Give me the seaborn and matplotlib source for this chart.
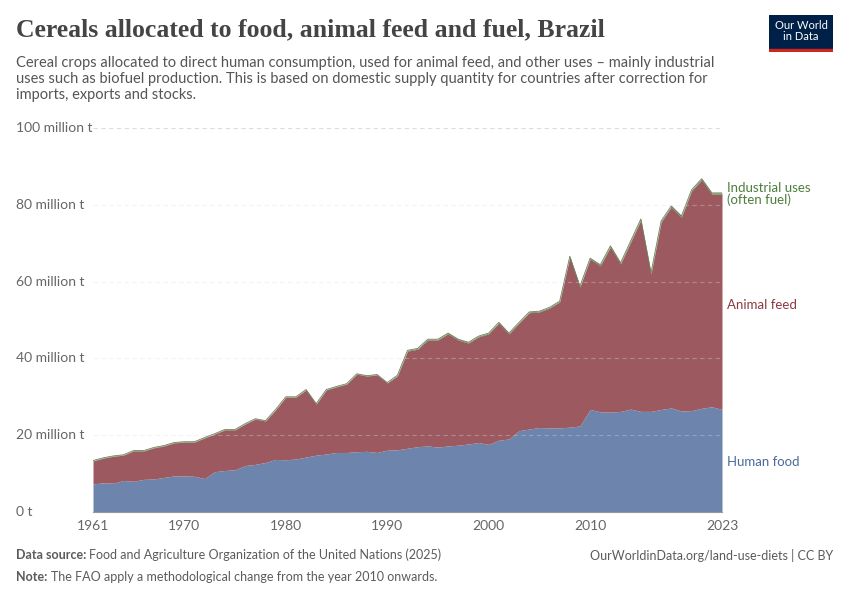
import matplotlib
matplotlib.use("Agg")
import matplotlib.pyplot as plt
import seaborn as sns
import numpy as np

years = list(range(1961, 2024))
human_food = [7.3,7.6,7.5,8.2,8.0,8.5,8.6,9.0,9.4,9.4,9.3,8.7,10.5,10.8,11.0,12.1,12.4,12.9,13.7,13.6,
              13.8,14.3,14.8,15.1,15.5,15.5,15.7,15.8,15.5,16.1,16.2,16.6,17.0,17.2,16.9,17.2,17.4,17.7,18.1,17.6,
              18.7,19.0,21.2,21.6,22.0,21.9,21.9,22.1,22.4,26.7,26.1,26.0,26.2,26.8,26.2,26.2,26.7,27.1,26.3,26.4,
              27.0,27.4,26.7]
animal_feed = [6.0,6.4,7.0,6.6,7.9,7.4,8.1,8.2,8.6,8.8,8.9,10.6,9.8,10.6,10.4,10.8,11.8,10.8,12.9,16.3,
               16.1,17.5,13.3,16.7,17.1,17.8,20.2,19.6,20.2,17.5,19.2,25.3,25.4,27.6,27.9,29.2,27.4,26.3,27.5,28.8,
               30.5,27.4,28.0,30.3,30.1,31.2,32.8,44.3,36.2,39.2,38.0,43.0,38.4,43.5,49.8,35.8,48.8,52.3,50.5,57.2,
               59.5,55.4,56.1]
industrial = [0.1]*30 + [0.2]*20 + [0.3]*13

sns.set_style("white")
plt.rcParams['font.family'] = ['Lato', 'DejaVu Sans']

fig = plt.figure(figsize=(8.5, 6), dpi=100)
ax = fig.add_axes([93/850, 88/600, (722-93)/850, 384/600])

yrs = np.array(years)
f = np.array(human_food); a = np.array(animal_feed); i = np.array(industrial)
food_c, feed_c, ind_c = "#6d84ad", "#9c5a60", "#5b8c4b"
ax.stackplot(yrs, f, a, i, colors=[food_c, feed_c, ind_c], linewidth=0)
ax.plot(yrs, f + a + i, color="#6b7f5a", lw=0.6)

ax.set_xlim(1961, 2023)
ax.set_ylim(0, 100)
for v in [20, 40, 60, 80, 100]:
    ax.axhline(v, color="#dddddd", lw=0.8, ls=(0, (4, 3)), zorder=0.5 if v == 100 else 3, alpha=1 if v==100 else 0.35)
for s in ["top", "right", "left"]:
    ax.spines[s].set_visible(False)
ax.spines["bottom"].set_color("#999999")
ax.set_yticks([0, 20, 40, 60, 80, 100])
ax.set_yticklabels([])
ax.tick_params(axis="y", length=0)
for v, lab in zip([0, 20, 40, 60, 80, 100], ["0 t", "20 million t", "40 million t", "60 million t", "80 million t", "100 million t"]):
    ax.text(-0.122, v, lab, transform=ax.get_yaxis_transform(), ha="left", va="center", fontsize=10, color="#666666")
ax.set_xticks([1961, 1970, 1980, 1990, 2000, 2010, 2023])
ax.set_xticklabels(["1961", "1970", "1980", "1990", "2000", "2010", "2023"], fontsize=10, color="#666666")
ax.tick_params(axis="x", length=4, color="#999999", pad=2)

ax.text(2023.5, 82.8, "Industrial uses\n(often fuel)", color="#4c7f3c", fontsize=9.5, va="center", linespacing=1.0)
ax.text(2023.5, 54, "Animal feed", color="#8b3a42", fontsize=9.5, va="center")
ax.text(2023.5, 13, "Human food", color="#4a6a9c", fontsize=9.5, va="center")

fig.text(16/850, 1 - 30/600, "Cereals allocated to food, animal feed and fuel, Brazil", fontsize=18.5,
         family=["Liberation Serif"], color="#444444", va="center", weight="bold")
fig.text(16/850, 1 - 79/600, "Cereal crops allocated to direct human consumption, used for animal feed, and other uses – mainly industrial\n"
         "uses such as biofuel production. This is based on domestic supply quantity for countries after correction for\n"
         "imports, exports and stocks.", fontsize=10.5, color="#555555", va="center", linespacing=1.15)

fig.text(16/850, 1 - 555/600, "Data source:", fontsize=9, color="#5b5b5b", va="center", weight="bold")
fig.text(89/850, 1 - 555/600, "Food and Agriculture Organization of the United Nations (2025)", fontsize=9, color="#5b5b5b", va="center")
fig.text(833/850, 1 - 555/600, "OurWorldinData.org/land-use-diets | CC BY", fontsize=9, color="#5b5b5b", va="center", ha="right")
fig.text(16/850, 1 - 577/600, "Note:", fontsize=9, color="#5b5b5b", va="center", weight="bold")
fig.text(51/850, 1 - 577/600, "The FAO apply a methodological change from the year 2010 onwards.", fontsize=9, color="#5b5b5b", va="center")

logo = fig.add_axes([769/850, 1 - 52/600, 64/850, 37/600])
logo.set_xlim(0, 1); logo.set_ylim(0, 1); logo.axis("off")
logo.add_patch(plt.Rectangle((0, 0.08), 1, 0.92, color="#002147"))
logo.add_patch(plt.Rectangle((0, 0), 1, 0.08, color="#ce261e"))
logo.text(0.5, 0.56, "Our World\nin Data", color="white", fontsize=8, ha="center", va="center", linespacing=1.0)

fig.savefig("out.png", dpi=100)
